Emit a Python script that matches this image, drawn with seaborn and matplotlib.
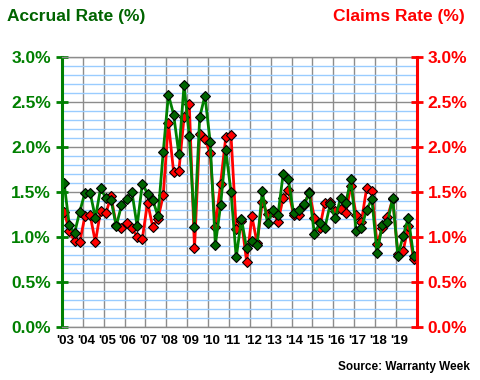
import numpy as np
import pandas as pd
import matplotlib
matplotlib.use('Agg')
import matplotlib.pyplot as plt
import matplotlib.ticker as mticker
import matplotlib.transforms as mtrans
import seaborn as sns

# ===== Data: quarterly rates (%), 2003 Q1 .. 2019 Q4 =====
quarters = pd.period_range('2003Q1', '2019Q4', freq='Q')

accrual_rate = [
    1.60, 1.13, 1.04, 1.28,  1.49, 1.49, 1.21, 1.54,  1.43, 1.41, 1.12, 1.35,
    1.42, 1.50, 1.12, 1.59,  1.48, 1.41, 1.23, 1.94,  2.58, 2.36, 1.92, 2.69,
    2.12, 1.11, 2.33, 2.57,  2.06, 0.91, 1.35, 1.96,  1.50, 0.77, 1.20, 0.87,
    0.95, 0.91, 1.51, 1.15,  1.30, 1.24, 1.70, 1.64,  1.26, 1.30, 1.36, 1.49,
    1.03, 1.15, 1.10, 1.36,  1.21, 1.43, 1.38, 1.64,  1.06, 1.10, 1.30, 1.42,
    0.82, 1.13, 1.16, 1.43,  0.79, 1.01, 1.21, 0.79,
]

claims_rate = [
    1.28, 1.07, 0.95, 0.94,  1.23, 1.24, 0.94, 1.29,  1.26, 1.45, 1.13, 1.10,
    1.15, 1.10, 1.00, 0.98,  1.38, 1.11, 1.20, 1.46,  2.27, 1.72, 1.73, 2.33,
    2.48, 0.87, 2.14, 2.09,  1.93, 1.11, 1.59, 2.11,  2.13, 1.09, 1.18, 0.72,
    1.23, 0.93, 1.39, 1.25,  1.28, 1.17, 1.43, 1.52,  1.24, 1.24, 1.35, 1.50,
    1.21, 1.10, 1.38, 1.39,  1.29, 1.31, 1.27, 1.57,  1.24, 1.17, 1.54, 1.51,
    0.92, 1.10, 1.22, 1.42,  0.81, 0.84, 1.12, 0.75,
]

years = list(range(2003, 2020))
year_labels = ["'03", "'04", "'05", "'06", "'07", "'08", "'09", "'10", "'11",
               "'12", "'13", "'14", "'15", "'16", "'17", "'18", "'19"]

GREEN = '#008000'
DARK_GREEN = '#006400'
RED = '#FF0000'
GRID_GRAY = '#8C8C8C'
GRID_BLUE = '#99CCFF'

sns.set_style('white')
plt.rcParams['font.family'] = ['Liberation Sans', 'DejaVu Sans']
plt.rcParams['font.weight'] = 'bold'

df = pd.DataFrame({
    'x': quarters.year + (quarters.quarter - 1) / 4 + 0.1,
    'Accrual': accrual_rate,
    'Claims': claims_rate,
})

fig = plt.figure(figsize=(4.8, 3.8), dpi=100)
ax = fig.add_axes([62 / 480, 1 - 326.7 / 380, 354.7 / 480, 269.7 / 380])
ax2 = ax.twinx()

line_kw = dict(lw=2.0, marker='D', markersize=4.8,
               markeredgecolor='black', markeredgewidth=0.8)
sns.lineplot(data=df, x='x', y='Claims', ax=ax, color=RED,
             markerfacecolor=RED, **line_kw)
sns.lineplot(data=df, x='x', y='Accrual', ax=ax, color=GREEN,
             markerfacecolor=DARK_GREEN, **line_kw)

# ----- axes scales -----
for a in (ax, ax2):
    a.set_ylim(0, 3)
    a.yaxis.set_major_locator(mticker.MultipleLocator(0.5))
    a.yaxis.set_minor_locator(mticker.NullLocator())
    a.yaxis.set_major_formatter(mticker.FuncFormatter(lambda v, _: f'{v:.1f}%'))
    a.set_xlim(2003, 2020)
    a.set_ylabel('')
ax.set_xlabel('')
ax.yaxis.set_minor_locator(mticker.MultipleLocator(0.1))
ax.xaxis.set_minor_locator(mticker.NullLocator())

# year gridlines, labels nudged a little right of the line
ax.set_xticks(years)
ax.set_xticklabels(year_labels)
ax.tick_params(axis='x', which='both', length=0, pad=6, labelsize=9.5,
               labelcolor='black')
shift = mtrans.ScaledTranslation(3 / 100, 0, fig.dpi_scale_trans)
for lab in ax.get_xticklabels():
    lab.set_transform(lab.get_transform() + shift)

ax.set_axisbelow(True)
ax.grid(False)
ax.yaxis.grid(True, which='minor', color=GRID_BLUE, lw=1)
ax.yaxis.grid(True, which='major', color=GRID_GRAY, lw=1)
ax.xaxis.grid(True, which='major', color=GRID_GRAY, lw=1)
ax2.grid(False)

ax.tick_params(axis='y', which='major', direction='inout', length=9, width=2,
               color=GREEN, labelcolor=GREEN, labelsize=12.5, pad=3.5)
ax.tick_params(axis='y', which='minor', length=0)
ax2.tick_params(axis='y', which='major', direction='inout', length=9, width=2,
                color=RED, labelcolor=RED, labelsize=12.5, pad=3.5)
ax2.tick_params(axis='x', which='both', length=0, labelbottom=False)

ax.spines['left'].set_color(GREEN)
ax.spines['left'].set_linewidth(2.2)
ax.spines['right'].set_visible(False)
for side in ('top', 'bottom'):
    ax.spines[side].set_color(GRID_GRAY)
    ax.spines[side].set_linewidth(1)
for side in ('left', 'top', 'bottom'):
    ax2.spines[side].set_visible(False)
ax2.spines['right'].set_color(RED)
ax2.spines['right'].set_linewidth(2.2)

# ----- titles / source -----
fig.text(7 / 480, 1 - 16 / 380, 'Accrual Rate (%)', color=DARK_GREEN,
         fontsize=12.5, fontweight='bold', ha='left', va='center')
fig.text(465 / 480, 1 - 16 / 380, 'Claims Rate (%)', color=RED,
         fontsize=12.5, fontweight='bold', ha='right', va='center')
fig.text(470 / 480, 1 - 367 / 380, 'Source: Warranty Week', color='black',
         fontsize=8.5, fontweight='bold', ha='right', va='center')

fig.savefig('out.png', dpi=100)
